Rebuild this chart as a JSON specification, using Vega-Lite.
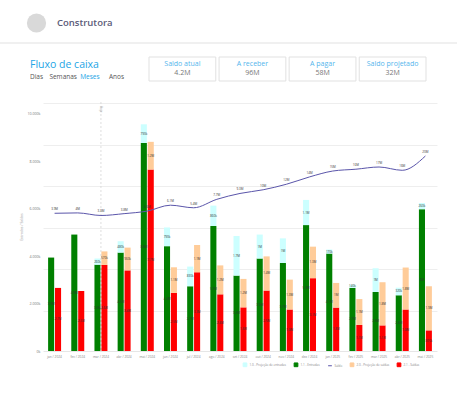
{
  "$schema": "https://vega.github.io/schema/vega-lite/v6.json",
  "background": "white",
  "padding": 0,
  "spacing": 0,
  "bounds": "flush",
  "config": {
    "font": "Open Sans",
    "view": {"stroke": null},
    "concat": {"spacing": 0}
  },
  "datasets": {
    "fluxo": [
      {"mes": "jan / 2024", "ent": 3940, "pent": 0, "sai": 2660, "psai": 0, "saldo": 3900},
      {"mes": "fev / 2024", "ent": 4910, "pent": 0, "sai": 2530, "psai": 0, "saldo": 4000},
      {"mes": "mar / 2024", "ent": 3640, "pent": 260, "sai": 3630, "psai": 570, "saldo": 3300},
      {"mes": "abr / 2024", "ent": 4150, "pent": 480, "sai": 3400, "psai": 960, "saldo": 3800},
      {"mes": "mai / 2024", "ent": 8770, "pent": 790, "sai": 7650, "psai": 1170, "saldo": 4500},
      {"mes": "jun / 2024", "ent": 4420, "pent": 790, "sai": 2450, "psai": 1080, "saldo": 6100},
      {"mes": "jul / 2024", "ent": 2730, "pent": 830, "sai": 3320, "psai": 1150, "saldo": 5400},
      {"mes": "ago / 2024", "ent": 5270, "pent": 860, "sai": 2390, "psai": 1220, "saldo": 7700},
      {"mes": "set / 2024", "ent": 3180, "pent": 1670, "sai": 1840, "psai": 1200, "saldo": 9300},
      {"mes": "out / 2024", "ent": 3900, "pent": 1010, "sai": 2550, "psai": 1440, "saldo": 10300},
      {"mes": "nov / 2024", "ent": 3710, "pent": 1040, "sai": 1750, "psai": 1260, "saldo": 11800},
      {"mes": "dez / 2024", "ent": 5310, "pent": 1060, "sai": 3070, "psai": 1330, "saldo": 13800},
      {"mes": "jan / 2025", "ent": 4110, "pent": 170, "sai": 1830, "psai": 1040, "saldo": 15400},
      {"mes": "fev / 2025", "ent": 2660, "pent": 140, "sai": 1100, "psai": 1090, "saldo": 15900},
      {"mes": "mar / 2025", "ent": 2490, "pent": 1000, "sai": 1080, "psai": 1820, "saldo": 16500},
      {"mes": "abr / 2025", "ent": 2350, "pent": 320, "sai": 1750, "psai": 1770, "saldo": 15600},
      {"mes": "mai / 2025", "ent": 5980, "pent": 260, "sai": 870, "psai": 1860, "saldo": 19500}
    ],
    "kpis": [
      {"kpi": "Saldo atual", "valor": "4.2M"},
      {"kpi": "A receber", "valor": "96M"},
      {"kpi": "A pagar", "valor": "58M"},
      {"kpi": "Saldo projetado", "valor": "32M"}
    ],
    "abas": [
      {"aba": "Dias", "ativa": false},
      {"aba": "Semanas", "ativa": false},
      {"aba": "Meses", "ativa": true},
      {"aba": "Anos", "ativa": false}
    ],
    "cabecalho": [{"empresa": "Construtora", "secao": "Fluxo de caixa"}],
    "marcos": [{"mes": "mar / 2024", "marco": "Hoje"}]
  },
  "vconcat": [
    {
      "width": 73,
      "height": 42,
      "data": {"name": "cabecalho"},
      "layer": [
        {"mark": {"type": "point", "filled": true, "size": 370, "color": "#d9d9d9", "opacity": 1, "yOffset": 2}},
        {
          "mark": {"type": "text", "align": "left", "baseline": "middle", "dx": 20.5, "dy": 2, "fontSize": 9.5, "fontWeight": 600, "color": "#5b5b78"},
          "encoding": {"text": {"field": "empresa"}}
        }
      ]
    },
    {"width": 457, "height": 2, "data": {"values": [{}]}, "mark": {"type": "bar", "color": "#f0f0f0"}},
    {"width": 457, "height": 13, "data": {"values": [{}]}, "mark": {"type": "point", "opacity": 0}},
    {
      "bounds": "flush",
      "spacing": 0,
      "hconcat": [
        {
          "width": 149,
          "height": 24,
          "data": {"name": "abas"},
          "layer": [
            {
              "data": {"name": "cabecalho"},
              "mark": {"type": "text", "align": "left", "baseline": "alphabetic", "dx": -44.5, "dy": -1.5, "fontSize": 10.5, "fontWeight": 500, "color": "#23a5e6"},
              "encoding": {"text": {"field": "secao"}}
            },
            {
              "mark": {"type": "text", "baseline": "alphabetic", "dy": 10, "fontSize": 6.5},
              "encoding": {
                "x": {"field": "aba", "type": "nominal", "sort": null, "scale": {"type": "point", "padding": 0, "range": [36.5, 116.5]}, "axis": null},
                "text": {"field": "aba"},
                "color": {"condition": {"test": "datum.ativa", "value": "#23a5e6"}, "value": "#555555"}
              }
            }
          ]
        },
        {
          "width": 277,
          "height": 24,
          "data": {"name": "kpis"},
          "encoding": {
            "x": {"field": "kpi", "type": "nominal", "sort": null, "scale": {"paddingInner": 0.047, "paddingOuter": 0}, "axis": null}
          },
          "layer": [
            {"mark": {"type": "bar", "fill": "white", "stroke": "#e1e1e1", "strokeWidth": 1}},
            {"mark": {"type": "text", "baseline": "middle", "dy": -4.7, "fontSize": 7, "color": "#53b5ec"}, "encoding": {"text": {"field": "kpi"}}},
            {"mark": {"type": "text", "baseline": "middle", "dy": 4.3, "fontSize": 7, "color": "#777777"}, "encoding": {"text": {"field": "valor"}}}
          ]
        }
      ]
    },
    {"width": 457, "height": 45, "data": {"values": [{}]}, "mark": {"type": "point", "opacity": 0}},
    {
      "bounds": "flush",
      "spacing": 0,
      "hconcat": [
        {"width": 43, "height": 249, "data": {"values": [{}]}, "mark": {"type": "point", "opacity": 0}},
        {
          "width": 394,
          "height": 249,
          "data": {"name": "fluxo"},
          "layer": [
            {
              "encoding": {
                "x": {
                  "field": "mes",
                  "type": "nominal",
                  "sort": null,
                  "scale": {
                    "domain": ["jan / 2024", "fev / 2024", "mar / 2024", "abr / 2024", "mai / 2024", "jun / 2024", "jul / 2024", "ago / 2024", "set / 2024", "out / 2024", "nov / 2024", "dez / 2024", "jan / 2025", "fev / 2025", "mar / 2025", "abr / 2025", "mai / 2025"],
                    "paddingInner": 0.44,
                    "paddingOuter": 0.22
                  },
                  "axis": {"title": null, "labelAngle": 0, "labelFontSize": 3.2, "labelColor": "#888888", "ticks": false, "domainColor": "#e6e6e6", "labelPadding": 3, "labelOverlap": false}
                }
              },
              "layer": [
                {
                  "transform": [
                    {"fold": ["ent", "pent", "sai", "psai"], "as": ["serie", "v"]},
                    {"filter": "datum.v > 0"},
                    {"calculate": "datum.serie === 'ent' || datum.serie === 'pent' ? 'Entradas' : 'Saídas'", "as": "grupo"},
                    {"calculate": "datum.serie === 'ent' ? '1.1 - Entradas' : datum.serie === 'pent' ? '1.0 - Projeção de entradas' : datum.serie === 'sai' ? '2.1 - Saídas' : '2.0 - Projeção de saídas'", "as": "nome"},
                    {"calculate": "datum.serie === 'ent' || datum.serie === 'sai' ? 0 : 1", "as": "ordem"},
                    {"stack": "v", "groupby": ["mes", "grupo"], "sort": [{"field": "ordem", "order": "ascending"}], "as": ["v0", "v1"]},
                    {"calculate": "(datum.v0 + datum.v1) / 2", "as": "meio"},
                    {"calculate": "datum.v >= 1000 ? format(datum.v / 1000, '.2~r') + 'M' : format(datum.v, '.3~r') + 'k'", "as": "rotulo"}
                  ],
                  "encoding": {
                    "xOffset": {"field": "grupo", "type": "nominal", "sort": ["Entradas", "Saídas"], "scale": {"paddingInner": 0.12}}
                  },
                  "layer": [
                    {
                      "mark": {"type": "bar"},
                      "encoding": {
                        "y": {
                          "field": "v0",
                          "type": "quantitative",
                          "scale": {"domain": [0, 10500], "nice": false, "zero": true},
                          "axis": {
                            "values": [0, 500, 1000, 1500, 2000, 2500, 3000, 3500, 4000, 4500, 5000, 5500, 6000, 6500, 7000, 7500, 8000, 8500, 9000, 9500, 10000, 10500],
                            "labelExpr": "replace(format(datum.value, ',.0f'), ',', '.') + 'k'",
                            "labelFontSize": 3.6,
                            "labelColor": "#777777",
                            "labelOverlap": false,
                            "labelBound": false,
                            "ticks": false,
                            "domain": false,
                            "grid": false,
                            "labelPadding": 3,
                            "title": "Entradas / Saídas",
                            "titleFontSize": 3.4,
                            "titleColor": "#999999",
                            "titleFontWeight": "normal",
                            "titlePadding": 3
                          }
                        },
                        "y2": {"field": "v1"},
                        "color": {
                          "field": "nome",
                          "type": "nominal",
                          "scale": {
                            "domain": ["1.0 - Projeção de entradas", "1.1 - Entradas", "Saldo", "2.0 - Projeção de saídas", "2.1 - Saídas"],
                            "range": ["#ccffff", "#008000", "#5a55aa", "#ffcc99", "#ff0000"]
                          },
                          "legend": {
                            "orient": "none",
                            "legendX": 242.5,
                            "legendY": 362,
                            "direction": "horizontal",
                            "title": null,
                            "padding": 0,
                            "labelFontSize": 3,
                            "labelColor": "#888888",
                            "symbolSize": 14,
                            "symbolType": "square",
                            "columnPadding": 5,
                            "labelOffset": 2,
                            "encode": {
                              "symbols": {
                                "update": {
                                  "shape": {"signal": "datum.value === 'Saldo' ? 'stroke' : 'square'"},
                                  "stroke": {"signal": "datum.value === 'Saldo' ? '#5a55aa' : 'transparent'"},
                                  "strokeWidth": {"value": 1}
                                }
                              }
                            }
                          }
                        }
                      }
                    },
                    {
                      "mark": {"type": "text", "fontSize": 3, "color": "#333333", "baseline": "middle"},
                      "encoding": {
                        "y": {"field": "meio", "type": "quantitative"},
                        "text": {"field": "rotulo"}
                      }
                    }
                  ]
                },
                {
                  "data": {"name": "marcos"},
                  "mark": {"type": "rule", "color": "#d0d0d0", "strokeDash": [2, 2], "strokeWidth": 0.7},
                  "encoding": {}
                },
                {
                  "data": {"name": "marcos"},
                  "mark": {"type": "text", "angle": 90, "fontSize": 3, "color": "#999999", "baseline": "middle"},
                  "encoding": {
                    "y": {"datum": 10200, "type": "quantitative"},
                    "text": {"field": "marco"}
                  }
                }
              ]
            },
            {
              "transform": [
                {"calculate": "datum.saldo >= 1000 ? format(datum.saldo / 1000, '.2~r') + 'M' : format(datum.saldo, '.3~r') + 'k'", "as": "rotulo_saldo"}
              ],
              "encoding": {
                "x": {"field": "mes", "type": "nominal", "sort": null},
                "y": {
                  "field": "saldo",
                  "type": "quantitative",
                  "scale": {"domain": [-33600, 34200], "nice": false},
                  "axis": {
                    "orient": "right",
                    "grid": true,
                    "gridColor": "#eeeeee",
                    "gridWidth": 1,
                    "values": [-22600, -11300, 0, 11300, 22600, 33900],
                    "labels": false,
                    "ticks": false,
                    "domain": false,
                    "title": null
                  }
                }
              },
              "layer": [
                {
                  "mark": {"type": "line", "interpolate": "monotone", "strokeWidth": 1},
                  "encoding": {"color": {"datum": "Saldo", "type": "nominal"}}
                },
                {
                  "mark": {"type": "text", "dy": -4, "fontSize": 3, "color": "#333333", "baseline": "middle"},
                  "encoding": {"text": {"field": "rotulo_saldo"}}
                }
              ]
            }
          ],
          "resolve": {"scale": {"y": "independent"}}
        }
      ]
    }
  ]
}
